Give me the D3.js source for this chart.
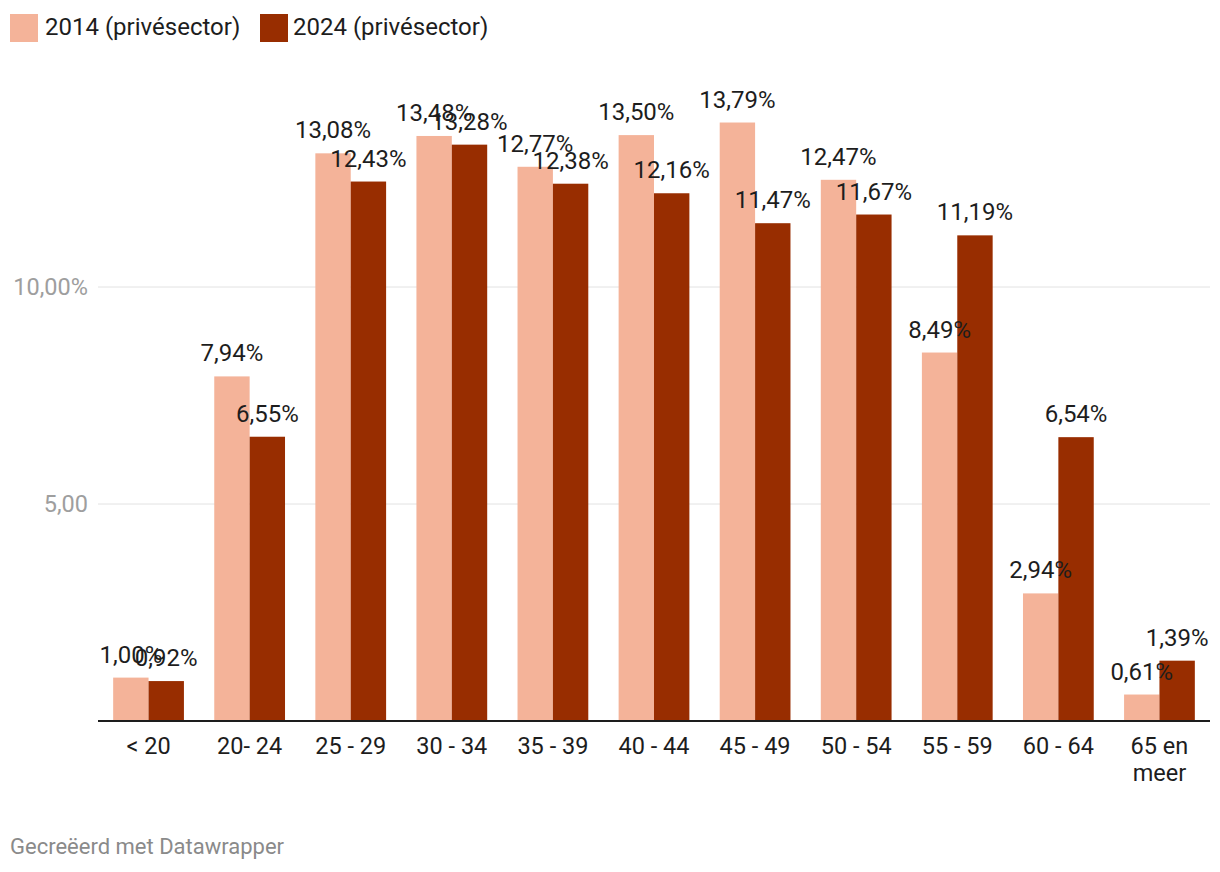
<!DOCTYPE html>
<html><head><meta charset="utf-8">
<script src="https://cdn.jsdelivr.net/npm/d3@7"></script>
<style>body{margin:0;background:#fff;font-family:Roboto,sans-serif;}</style>
</head><body><svg id="c" width="1220" height="872"></svg>
<script>
const categories = ["< 20","20- 24","25 - 29","30 - 34","35 - 39","40 - 44","45 - 49","50 - 54","55 - 59","60 - 64","65 en\nmeer"];
const series2014 = [1.00,7.94,13.08,13.48,12.77,13.50,13.79,12.47,8.49,2.94,0.61];
const series2024 = [0.92,6.55,12.43,13.28,12.38,12.16,11.47,11.67,11.19,6.54,1.39];
const seriesNames = ["2014 (privésector)","2024 (privésector)"];
const colors = ["#f4b399","#982d00"];
const yTicks = [5,10];
const yTickLabels = ["5,00","10,00%"];

const svg = d3.select("#c");
const x0 = d3.scaleBand().domain(categories).range([98,1210]).paddingInner(0.3).paddingOuter(0.15);
const x1 = d3.scaleBand().domain([0,1]).range([0,x0.bandwidth()]);
const y = d3.scaleLinear().domain([0,10]).range([721,287]);

// gridlines
svg.append("g").selectAll("line").data(yTicks).join("line")
  .attr("x1",98).attr("x2",1210).attr("y1",d=>y(d)).attr("y2",d=>y(d))
  .attr("stroke","#e2e2e2").attr("stroke-width",1);
svg.append("g").selectAll("text").data(yTicks).join("text")
  .attr("x",88).attr("y",d=>y(d)).attr("dy","0.35em").attr("text-anchor","end")
  .attr("fill","#9e9e9e").style("font-size","23.5px").text((d,i)=>yTickLabels[i]);

const data = categories.map((c,i)=>({c, v:[series2014[i],series2024[i]]}));
const g = svg.append("g").selectAll("g").data(data).join("g")
  .attr("transform",d=>`translate(${x0(d.c)},0)`);
g.selectAll("rect").data(d=>d.v.map((v,k)=>({v,k}))).join("rect")
  .attr("x",d=>x1(d.k)).attr("width",x1.bandwidth())
  .attr("y",d=>y(d.v)).attr("height",d=>y(0)-y(d.v)).attr("fill",d=>colors[d.k]);
g.selectAll("text").data(d=>d.v.map((v,k)=>({v,k}))).join("text")
  .attr("x",d=>x1(d.k)+x1.bandwidth()/2).attr("y",d=>y(d.v)-15)
  .attr("text-anchor","middle").attr("fill","#1d1d1d").style("font-size","24px")
  .text(d=>d3.format(".2f")(d.v).replace(".",",")+"%");

// baseline
svg.append("line").attr("x1",98).attr("x2",1210).attr("y1",y(0)).attr("y2",y(0))
  .attr("stroke","#1d1d1d").attr("stroke-width",2);

// x labels
const xl = svg.append("g").selectAll("text").data(categories).join("text")
  .attr("x",d=>x0(d)+x0.bandwidth()/2).attr("y",754).attr("text-anchor","middle")
  .attr("fill","#1d1d1d").style("font-size","23.5px");
xl.each(function(d){
  const parts = d.split("\n");
  d3.select(this).selectAll("tspan").data(parts).join("tspan")
    .attr("x",x0(d)+x0.bandwidth()/2).attr("dy",(p,i)=>i?"27":"0").text(p=>p);
});

// legend
const leg = [[10,45],[260,293]];
seriesNames.forEach((n,i)=>{
  svg.append("rect").attr("x",leg[i][0]).attr("y",14).attr("width",28).attr("height",28).attr("fill",colors[i]);
  svg.append("text").attr("x",leg[i][1]).attr("y",35).attr("fill","#1d1d1d").style("font-size","24px").text(n);
});

svg.append("text").attr("x",10).attr("y",854).attr("fill","#8a8a8a").style("font-size","22px").text("Gecreëerd met Datawrapper");
</script></body></html>
